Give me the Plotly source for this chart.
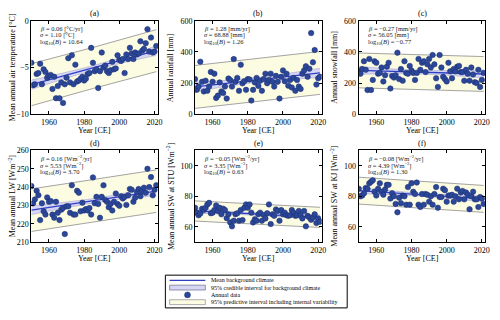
import plotly.graph_objects as go

years = list(range(1950, 2022))

temp = [-4.5, -6.9, -6.8, -5.7, -5.6, -4.6, -6.8, -5.2, -5.5, -6.1,
        -5.9, -5.8, -7.3, -6.0, -8.3, -7.0, -8.3, -6.6, -8.8, -6.8,
        -6.1, -4.0, -6.6, -3.7, -6.8, -4.7, -6.5, -6.4, -6.2, -6.0,
        -6.4, -6.2, -5.7, -5.6, -2.9, -4.5, -5.4, -5.2, -7.2, -5.4,
        -3.4, -5.0, -4.8, -5.4, -5.6, -5.3, -4.4, -5.2, -5.1, -3.7,
        -4.2, -4.3, -4.1, -5.6, -3.6, -4.1, -2.9, -3.5, -4.1, -3.4,
        -3.6, -3.5, -2.2, -3.2, -3.0, -2.4, -0.9, -3.3, -1.8, -3.4,
        -3.3, -2.7]

rain = [225, 156, 177, 337, 208, 146, 215, 150, 177, 271,
        208, 260, 104, 119, 204, 146, 135, 177, 100, 229,
        219, 177, 354, 208, 233, 150, 317, 198, 212, 156,
        225, 223, 87, 156, 204, 233, 181, 215, 150, 225,
        260, 198, 219, 260, 208, 177, 246, 208, 100, 240,
        281, 212, 260, 183, 219, 171, 233, 150, 219, 177,
        162, 260, 281, 308, 240, 292, 521, 333, 412, 190,
        230, 240]

snow = [275, 260, 290, 340, 285, 155, 355, 155, 220, 340,
        330, 260, 265, 300, 210, 250, 305, 330, 165, 245,
        235, 250, 395, 225, 290, 215, 340, 265, 260, 310,
        280, 265, 220, 265, 355, 285, 330, 340, 270, 320,
        355, 300, 380, 320, 230, 175, 380, 300, 240, 225,
        210, 330, 275, 230, 290, 275, 305, 310, 270, 270,
        215, 285, 260, 215, 300, 255, 205, 200, 285, 175,
        220, 265]

lw = [240.6, 231.2, 233.3, 238.0, 235.6, 222.0, 231.2, 226.8, 225.0, 234.4,
      232.0, 232.4, 225.0, 223.3, 232.0, 226.0, 222.0, 227.7, 228.6, 214.4,
      229.5, 229.5, 226.0, 241.0, 225.0, 225.0, 238.0, 236.9, 226.8, 231.5,
      227.3, 228.0, 227.3, 228.6, 225.0, 245.3, 231.2, 234.7, 230.8, 223.3,
      234.7, 241.0, 233.0, 232.0, 229.0, 230.8, 227.3, 232.0, 236.5, 230.8,
      229.8, 235.0, 233.8, 234.7, 230.3, 235.6, 239.0, 238.6, 232.0, 234.2,
      237.4, 239.0, 235.0, 238.0, 239.7, 236.9, 250.0, 240.0, 245.5, 235.5,
      238.5, 241.0]

sw_stu = [72.5, 69.3, 67.6, 68.7, 71.9, 71.0, 72.5, 74.7, 75.7, 68.9,
          69.3, 71.0, 74.0, 70.4, 72.5, 68.2, 71.9, 71.0, 65.7, 68.2,
          62.9, 60.3, 64.0, 68.2, 68.9, 64.0, 71.0, 64.4, 72.5, 74.7,
          72.5, 74.7, 69.3, 62.9, 65.0, 64.0, 68.2, 69.3, 64.0, 67.8,
          65.5, 68.9, 74.7, 61.8, 68.2, 67.2, 71.4, 70.4, 64.0, 71.0,
          68.2, 69.3, 67.6, 67.2, 67.6, 71.0, 69.3, 67.2, 67.6, 70.4,
          67.6, 65.5, 70.4, 60.3, 67.2, 66.1, 64.6, 66.1, 68.2, 62.5,
          65.5, 63.3]

sw_kj = [85.0, 80.0, 80.5, 82.0, 85.5, 85.0, 88.5, 89.5, 90.5, 83.0,
         80.5, 85.0, 88.5, 83.0, 81.0, 84.5, 87.5, 87.5, 78.5, 82.0,
         80.0, 75.0, 69.5, 79.0, 75.5, 80.5, 80.0, 74.5, 86.0, 74.5,
         88.5, 83.0, 81.5, 89.0, 74.5, 73.0, 81.5, 74.5, 81.5, 81.0,
         76.5, 80.0, 74.5, 81.5, 86.0, 72.5, 79.5, 79.5, 85.0, 84.0,
         76.5, 80.5, 80.5, 81.0, 76.5, 80.0, 85.0, 78.0, 82.5, 83.5,
         78.0, 82.5, 81.0, 71.5, 80.0, 83.0, 78.0, 78.0, 73.0, 79.5,
         78.5, 75.0]

# fitted background climate, sampled at start / middle / end of record
fit_years = [1950, 1985.5, 2021]

temp_mean = [-6.85, -5.03, -3.2]
temp_ci = [0.5, 0.25, 0.5]
temp_pi = [2.25, 2.2, 2.25]

rain_mean = [175, 220, 265]
rain_ci = [30, 15, 30]
rain_pi = [138, 136, 138]

snow_mean = [281, 269.5, 258]
snow_ci = [25, 12, 25]
snow_pi = [112, 110, 112]

lw_mean = [227.4, 232.6, 237.8]
lw_ci = [2.4, 1.2, 2.4]
lw_pi = [11.6, 11.4, 11.6]

stu_mean = [70.4, 68.3, 66.2]
stu_ci = [1.5, 0.8, 1.5]
stu_pi = [6.6, 6.5, 6.6]

kj_mean = [83.7, 81.0, 78.3]
kj_ci = [2.0, 1.0, 2.0]
kj_pi = [8.8, 8.7, 8.8]

panels = [
    ("(a)", temp, temp_mean, temp_ci, temp_pi, [-10, 0], [-10, -5, 0],
     "Mean annual air temperature [°C]",
     ["<i>β</i> = 0.06 [°C/yr]", "<i>σ</i> = 1.10 [°C]", "log<sub>10</sub>(<i>B</i>) = 10.64"]),
    ("(b)", rain, rain_mean, rain_ci, rain_pi, [0, 600], [0, 200, 400, 600],
     "Annual rainfall [mm]",
     ["<i>β</i> = 1.28 [mm/yr]", "<i>σ</i> = 68.88 [mm]", "log<sub>10</sub>(<i>B</i>) = 1.26"]),
    ("(c)", snow, snow_mean, snow_ci, snow_pi, [0, 600], [0, 200, 400, 600],
     "Annual snowfall [mm]",
     ["<i>β</i> = −0.27 [mm/yr]", "<i>σ</i> = 56.05 [mm]", "log<sub>10</sub>(<i>B</i>) = −0.77"]),
    ("(d)", lw, lw_mean, lw_ci, lw_pi, [210, 260], [210, 220, 230, 240, 250, 260],
     "Mean annual LW [Wm<sup>−2</sup>]",
     ["<i>β</i> = 0.16 [Wm<sup>−2</sup>/yr]", "<i>σ</i> = 5.53 [Wm<sup>−2</sup>]", "log<sub>10</sub>(<i>B</i>) = 3.70"]),
    ("(e)", sw_stu, stu_mean, stu_ci, stu_pi, [50, 110], [60, 80, 100],
     "Mean annual SW at STU [Wm<sup>−2</sup>]",
     ["<i>β</i> = −0.05 [Wm<sup>−2</sup>/yr]", "<i>σ</i> = 3.35 [Wm<sup>−2</sup>]", "log<sub>10</sub>(<i>B</i>) = 0.63"]),
    ("(f)", sw_kj, kj_mean, kj_ci, kj_pi, [50, 110], [60, 80, 100],
     "Mean annual SW at KJ [Wm<sup>−2</sup>]",
     ["<i>β</i> = −0.08 [Wm<sup>−2</sup>/yr]", "<i>σ</i> = 4.39 [Wm<sup>−2</sup>]", "log<sub>10</sub>(<i>B</i>) = 1.30"]),
]

W, H = 500, 320
FONT = "Liberation Serif, DejaVu Serif, serif"
DOT = "#2b4799"
MEAN = "#2f3fc4"
CI_FILL = "#d6d6f4"
PI_FILL = "#fcfce3"
GREY = "#8c8c8c"


def px(x):
    return x / W


def py(y):
    return 1 - y / H


def label(text, x, y, size=8, **kw):
    # paper-positioned text, centred on (x, y) given in pixels unless anchors are overridden
    d = dict(text=text, x=px(x), y=py(y), xref="paper", yref="paper", showarrow=False,
             xanchor="center", yanchor="middle", font=dict(family=FONT, size=size, color="black"))
    d.update(kw)
    return d


col_left = [31.6, 196.6, 361.6]
col_w = 127.7
row_top = [17.3, 150.7]
row_bot = [113.3, 245.0]
stat_gap = [6.7, 7.3]  # superscripted units need a touch more room

fig = go.Figure()
layout = {}
annotations = []

for i, (tag, vals, mean, ci, pi, yr, yt, ytitle, stats) in enumerate(panels):
    r, c = divmod(i, 3)
    n = i + 1
    xa = "x" if n == 1 else f"x{n}"
    ya = "y" if n == 1 else f"y{n}"

    lo_pi = [m - h for m, h in zip(mean, pi)]
    hi_pi = [m + h for m, h in zip(mean, pi)]
    lo_ci = [m - h for m, h in zip(mean, ci)]
    hi_ci = [m + h for m, h in zip(mean, ci)]

    fig.add_trace(go.Scatter(x=fit_years, y=lo_pi, mode="lines", line=dict(color=GREY, width=0.8),
                             xaxis=xa, yaxis=ya, showlegend=False, hoverinfo="skip"))
    fig.add_trace(go.Scatter(x=fit_years, y=hi_pi, mode="lines", line=dict(color=GREY, width=0.8),
                             fill="tonexty", fillcolor=PI_FILL,
                             xaxis=xa, yaxis=ya, showlegend=False, hoverinfo="skip"))
    fig.add_trace(go.Scatter(x=fit_years, y=lo_ci, mode="lines", line=dict(color="#9a9ac8", width=0.5, shape="spline"),
                             xaxis=xa, yaxis=ya, showlegend=False, hoverinfo="skip"))
    fig.add_trace(go.Scatter(x=fit_years, y=hi_ci, mode="lines", line=dict(color="#9a9ac8", width=0.5, shape="spline"),
                             fill="tonexty", fillcolor=CI_FILL,
                             xaxis=xa, yaxis=ya, showlegend=False, hoverinfo="skip"))
    fig.add_trace(go.Scatter(x=fit_years, y=mean, mode="lines", line=dict(color=MEAN, width=1.3),
                             xaxis=xa, yaxis=ya, showlegend=False))
    fig.add_trace(go.Scatter(x=years, y=vals, mode="markers",
                             marker=dict(size=5.5, color=DOT, line=dict(color="#1c2f6e", width=0.5)),
                             xaxis=xa, yaxis=ya, showlegend=False))

    x0 = col_left[c]
    x1 = x0 + col_w
    y0 = row_top[r]
    y1 = row_bot[r]
    axis_common = dict(showline=True, mirror="ticks", linecolor="black", linewidth=1,
                       ticks="inside", ticklen=3, tickcolor="black", showgrid=False, zeroline=False,
                       tickfont=dict(family=FONT, size=8, color="black"))
    layout["xaxis" if n == 1 else f"xaxis{n}"] = dict(
        domain=[px(x0), px(x1)], anchor=ya, range=[1950, 2022],
        tickvals=[1960, 1980, 2000, 2020], **axis_common)
    layout["yaxis" if n == 1 else f"yaxis{n}"] = dict(
        domain=[py(y1), py(y0)], anchor=xa, range=yr, tickvals=yt, **axis_common)

    annotations.append(label(tag, x0 + col_w / 2, y0 - 7.5))
    annotations.append(label("Year [CE]", x0 + col_w / 2, y1 + 17))
    ytx = x0 - 19.5 if c == 0 else x0 - 24.5
    annotations.append(label(ytitle, ytx, (y0 + y1) / 2, textangle=-90))
    for k, s in enumerate(stats):
        annotations.append(label(s, x0 + 7, y0 + 8 + stat_gap[r] * k, size=6.5, xanchor="left",
                                 font=dict(family=FONT, size=6.5, color="#222222")))

# legend drawn by hand (compact, MATLAB-like)
shapes = []
lg_l, lg_r, lg_t, lg_b = 166.7, 350, 279, 312.7
shapes.append(dict(type="rect", xref="paper", yref="paper", x0=px(lg_l), x1=px(lg_r), y0=py(lg_b), y1=py(lg_t),
                   line=dict(color="black", width=1), fillcolor="white"))
rows_y = [284.3, 291.8, 299.3, 306.8]
sw0, sw1 = 171, 207
shapes.append(dict(type="line", xref="paper", yref="paper", x0=px(sw0), x1=px(sw1), y0=py(rows_y[0]), y1=py(rows_y[0]),
                   line=dict(color=MEAN, width=1.3)))
shapes.append(dict(type="rect", xref="paper", yref="paper", x0=px(sw0), x1=px(sw1), y0=py(rows_y[1] + 2.5),
                   y1=py(rows_y[1] - 2.5), line=dict(color="#555577", width=0.6), fillcolor=CI_FILL))
shapes.append(dict(type="circle", xref="paper", yref="paper", x0=px(189 - 3), x1=px(189 + 3),
                   y0=py(rows_y[2] + 3), y1=py(rows_y[2] - 3), line=dict(color="#1c2f6e", width=0.5), fillcolor=DOT))
shapes.append(dict(type="rect", xref="paper", yref="paper", x0=px(sw0), x1=px(sw1), y0=py(rows_y[3] + 2.5),
                   y1=py(rows_y[3] - 2.5), line=dict(color="#777777", width=0.6), fillcolor=PI_FILL))
legend_labels = ["Mean background climate",
                 "95% credible interval for background climate",
                 "Annual data",
                 "95% predictive interval including internal variability"]
for yy, lab in zip(rows_y, legend_labels):
    annotations.append(label(lab, 211, yy, size=6, xanchor="left"))

fig.update_layout(
    width=W, height=H,
    margin=dict(l=0, r=0, t=0, b=0),
    paper_bgcolor="white", plot_bgcolor="white",
    showlegend=False,
    annotations=annotations,
    shapes=shapes,
    **layout,
)

# the page body has a default 8px margin; drop it so the 500x320 figure fills the window
fig.write_html("out.html", config={"displayModeBar": False},
               post_script="document.body.style.margin='0';")
